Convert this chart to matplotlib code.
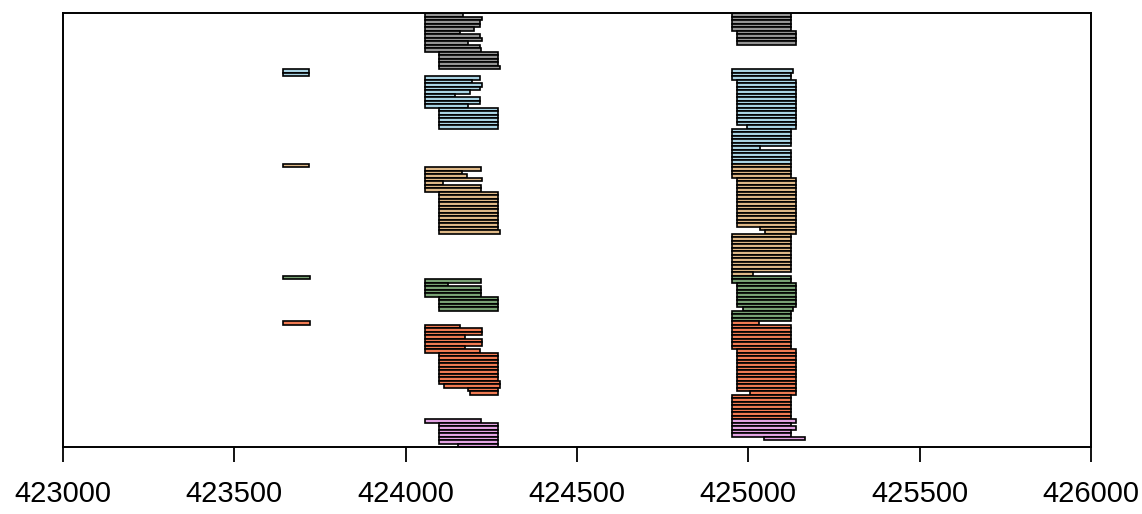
import numpy as np
import matplotlib
matplotlib.use("Agg")
import matplotlib.pyplot as plt

plt.rcParams['font.family'] = ['Liberation Sans', 'DejaVu Sans']

n_rows = 124
x_ticks = [423000, 423500, 424000, 424500, 425000, 425500, 426000]

# runs of reads: (first row from top, read start, one read end per row)
gray_reads = [
    (0, 424056, [424168, 424222, 424217, 424217, 424198, 424159, 424217, 424222, 424183, 424217, 424220]),
    (11, 424096, [424270, 424270, 424270, 424270, 424275]),
    (0, 424951, [425124] * 5),
    (5, 424968, [425138] * 4),
]
blue_reads = [
    (16, 423643, [423718, 423718]),
    (18, 424056, [424217, 424193, 424222, 424217, 424188, 424144, 424217, 424217, 424183]),
    (27, 424096, [424270] * 6),
    (16, 424951, [425130, 425124, 425124]),
    (19, 424968, [425138] * 13),
    (32, 424995, [425138]),
    (33, 424951, [425124] * 5 + [425035] + [425124] * 4),
]
tan_reads = [
    (43, 423643, [423718]),
    (44, 424056, [424220, 424163, 424178, 424222, 424110, 424220, 424220]),
    (51, 424096, [424270] * 11 + [424275]),
    (43, 424951, [425124] * 4),
    (47, 424968, [425138] * 14),
    (61, 425034, [425138]),
    (62, 425049, [425138]),
    (63, 424951, [425124] * 11 + [425014]),
]
green_reads = [
    (75, 423643, [423720]),
    (76, 424056, [424220, 424125, 424220, 424220, 424220]),
    (81, 424096, [424270] * 4),
    (75, 424951, [425124] * 2),
    (77, 424968, [425138] * 7),
    (84, 424985, [425131]),
    (85, 424951, [425124] * 3),
]
red_reads = [
    (88, 423643, [423720]),
    (89, 424056, [424159, 424222, 424222, 424174, 424222, 424222, 424174, 424217]),
    (97, 424096, [424270] * 8 + [424275]),
    (106, 424113, [424275]),
    (107, 424183, [424270]),
    (108, 424188, [424270]),
    (88, 424951, [425032]),
    (89, 424951, [425124] * 7),
    (96, 424968, [425138] * 12),
    (108, 425005, [425138]),
    (109, 424951, [425124] * 7),
]
purple_reads = [
    (116, 424056, [424220]),
    (117, 424096, [424270] * 6),
    (123, 424154, [424270]),
    (116, 424951, [425138, 425124, 425138, 425124, 425124]),
    (121, 425047, [425165]),
]

samples = [
    (gray_reads, "#949494"),
    (blue_reads, "#a9d3e3"),
    (tan_reads, "#deb887"),
    (green_reads, "#78a274"),
    (red_reads, "#f07a52"),
    (purple_reads, "#e3a3e3"),
]

fig = plt.figure(figsize=(11.42, 5.14), dpi=100)
ax = fig.add_axes([63 / 1142, 1 - 447 / 514, 1028 / 1142, 434 / 514])

for reads, col in samples:
    for first, start, ends in reads:
        ends = np.array(ends)
        rows = first + np.arange(len(ends)) + 0.5
        ax.barh(rows, ends - start, left=start, height=1.0,
                color=col, edgecolor="black", linewidth=1.2)

ax.set_xlim(423000, 426000)
ax.set_ylim(n_rows, 0)
ax.set_xticks(x_ticks)
ax.set_xticklabels([str(t) for t in x_ticks])
ax.set_yticks([])
ax.tick_params(axis="x", length=11, width=1.3, labelsize=21, pad=13)
for s in ax.spines.values():
    s.set_linewidth(1.4)

fig.savefig("out.png", dpi=100)
